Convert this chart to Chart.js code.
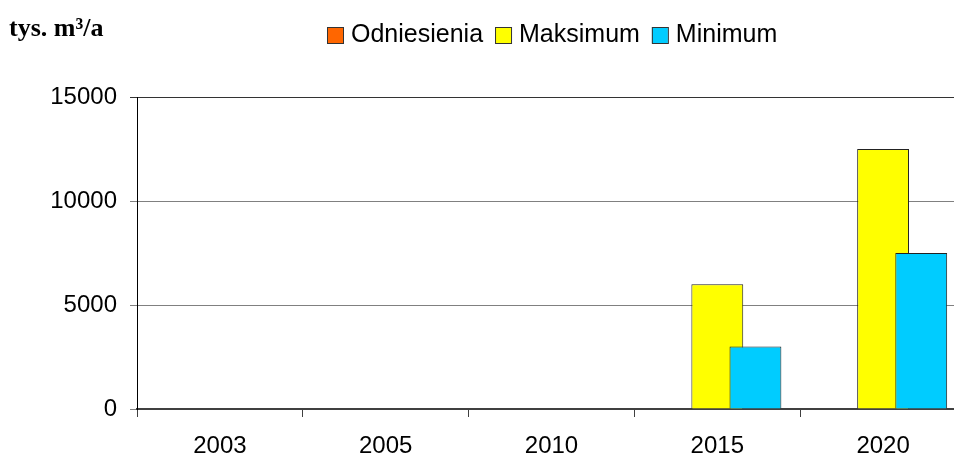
<!DOCTYPE html>
<html>
<head>
<meta charset="utf-8">
<title>tys. m3/a</title>
<script src="https://cdn.jsdelivr.net/npm/chart.js@4.4.1/dist/chart.umd.min.js"></script>
<style>
  html, body { margin: 0; padding: 0; background: #fff; overflow: hidden; }
  #wrap { width: 970px; height: 454px; }
</style>
</head>
<body>
<div id="wrap"><canvas id="chart" width="970" height="454"></canvas></div>
<script>
// Chart data
const years = ['2003', '2005', '2010', '2015', '2020'];
const seriesNames = ['Odniesienia', 'Maksimum', 'Minimum'];
const odniesienia = [null, null, null, null, null];
const maksimum = [null, null, null, 6000, 12500];
const minimum = [null, null, null, 3000, 7500];
const yTicks = [0, 5000, 10000, 15000];
const unitLabel = 'tys. m³/a';

const colors = ['#FF6600', '#FFFF00', '#00CCFF'];

// Title and legend drawn in the top band
const headerPlugin = {
  id: 'header',
  afterDraw(chart) {
    const ctx = chart.ctx;
    ctx.save();
    ctx.fillStyle = '#000';
    ctx.textBaseline = 'alphabetic';
    ctx.textAlign = 'left';
    ctx.font = 'bold 26px "Liberation Serif", "Times New Roman", serif';
    ctx.fillText(unitLabel, 9, 36);

    ctx.font = '25px "Liberation Sans", Arial, sans-serif';
    let x = 327;
    chart.data.datasets.forEach((ds) => {
      ctx.fillStyle = ds.backgroundColor;
      ctx.fillRect(x, 27, 16, 16);
      ctx.strokeStyle = '#333';
      ctx.lineWidth = 1;
      ctx.strokeRect(x + 0.5, 27.5, 16, 16);
      ctx.fillStyle = '#000';
      ctx.fillText(ds.label, x + 24, 42);
      x += 24 + ctx.measureText(ds.label).width + 12;
    });
    ctx.restore();
  }
};

// Overlapping bars: draw series first-to-last so the later one sits on top
const drawOrderPlugin = {
  id: 'drawOrder',
  beforeDatasetsDraw(chart) {
    chart.data.datasets.forEach((ds, i) => {
      const meta = chart.getDatasetMeta(i);
      if (!meta.hidden) meta.controller.draw();
    });
    return false;
  }
};

const datasets = [odniesienia, maksimum, minimum].map((values, i) => ({
  label: seriesNames[i],
  data: values,
  backgroundColor: colors[i],
  borderColor: '#222',
  borderWidth: 1,
  borderSkipped: 'bottom',
  categoryPercentage: 0.69,
  barPercentage: 1.36
}));

new Chart(document.getElementById('chart'), {
  type: 'bar',
  data: { labels: years, datasets: datasets },
  plugins: [headerPlugin, drawOrderPlugin],
  options: {
    responsive: false,
    animation: false,
    layout: { padding: { top: 97, left: 0, right: 4, bottom: 0 } },
    plugins: {
      legend: { display: false },
      title: { display: false },
      tooltip: { enabled: false }
    },
    scales: {
      x: {
        offset: true,
        grid: {
          offset: true,
          drawOnChartArea: false,
          drawTicks: true,
          tickLength: 8,
          color: '#404040',
          lineWidth: 1
        },
        border: { display: true, color: '#404040', width: 2 },
        ticks: {
          color: '#000',
          padding: 15,
          maxRotation: 0,
          font: { family: '"Liberation Sans", Arial, sans-serif', size: 24 }
        },
        afterFit(scale) { scale.height = 45; }
      },
      y: {
        min: 0,
        max: 15000,
        afterBuildTicks(scale) { scale.ticks = yTicks.map((v) => ({ value: v })); },
        grid: {
          color: (c) => (c.tick && c.tick.value === 15000 ? '#333' : '#808080'),
          lineWidth: 1,
          tickLength: 7
        },
        border: { display: true, color: '#000', width: 1 },
        ticks: {
          color: '#000',
          padding: 13,
          callback: (value) => String(value),
          font: { family: '"Liberation Sans", Arial, sans-serif', size: 24 }
        },
        afterFit(scale) { scale.width = 137; }
      }
    }
  }
});
</script>
</body>
</html>
